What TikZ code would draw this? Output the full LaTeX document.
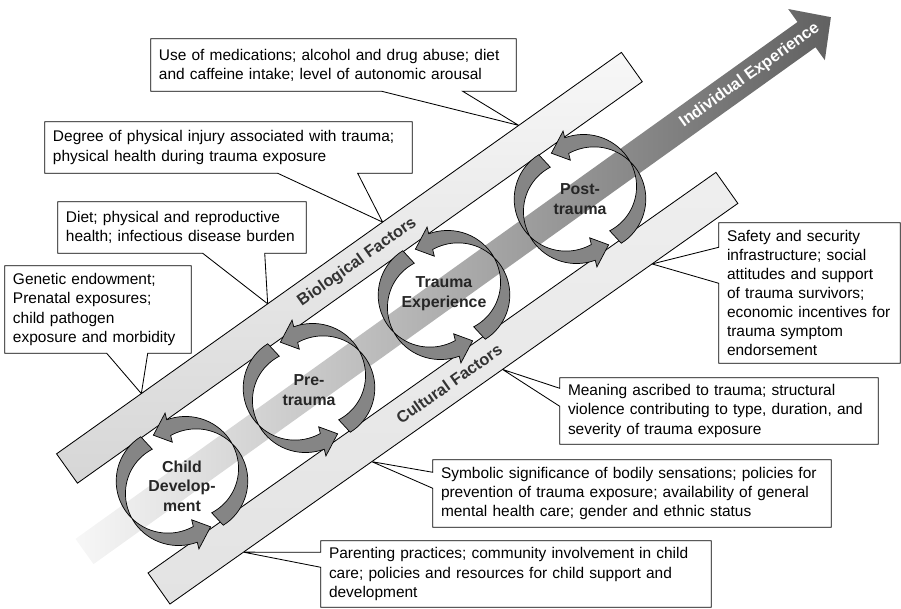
\documentclass[tikz,border=0pt]{standalone}
\usepackage{fontspec}
\setmainfont{Liberation Sans}
\usepackage{tikz}
\usetikzlibrary{calc, backgrounds}

\tikzset{
    note/.style={inner xsep=2mm, inner ysep=1mm, align=left, font=\fontsize{11}{13.6}\selectfont},
    callout/.style={draw=black, line width=0.6pt, fill=white},
    bar/.style={draw=black, line width=0.6pt},
    cyc/.style={draw=black, line width=0.5pt, fill=black!48},
    cyclbl/.style={align=center, font=\fontsize{11.3}{14}\selectfont\bfseries, text=black!85},
    barlbl/.style={font=\fontsize{11.6}{13}\selectfont\bfseries, text=black!80, transform shape}
}

% one half of a cycle, centred at the origin
\newcommand{\cycarrow}{%
    \filldraw[cyc] plot[domain=0:1, samples=40, variable=\t] ({133+151*\t}:{52+9*sin(180*\t)+3*\t+8.5*cos(162*\t)})
        -- (284:40) -- (302:54) -- (284:70)
        -- plot[domain=1:0, samples=40, variable=\t] ({133+151*\t}:{52+9*sin(180*\t)+3*\t-8.5*cos(162*\t)}) -- cycle;
}

\begin{document}
\begin{tikzpicture}[x=0.25mm, y=0.25mm]
    \useasboundingbox (0,0) rectangle (901,608);

    % Individual Experience
    \begin{scope}[shift={(84.5,56.5)}, rotate=35.6]
        \shade[left color=gray!6, right color=black!62] (0,-15.5) -- (888,-15.5) -- (888,-31.5) -- (918,0)
            -- (888,31.5) -- (888,15.5) -- (0,15.5) -- cycle;
        \node[barlbl, text=white] (ind) at (818,0) {Individual Experience};
    \end{scope}

    % Biological Factors
    \begin{scope}[shift={(67,139.5)}, rotate=35.4]
        \shadedraw[bar, top color=gray!6, bottom color=gray!32] (0,-18) rectangle (693,18);
        \node[barlbl] (bio) at (356,0) {Biological Factors};
        \coordinate (b1) at (104,18);
        \coordinate (b2) at (259,18);
        \coordinate (b3) at (400,18);
        \coordinate (b4) at (567,18);
    \end{scope}

    % Cultural Factors
    \begin{scope}[shift={(159,19.5)}, rotate=35.2]
        \shadedraw[bar, top color=gray!13, bottom color=gray!22] (0,-19) rectangle (695,19);
        \node[barlbl] (cul) at (355,0) {Cultural Factors};
        \coordinate (c1) at (90,-19);
        \coordinate (c2) at (247,-19);
        \coordinate (c3) at (407,-19);
        \coordinate (c4) at (590,-19);
    \end{scope}

    % Cycles
    \foreach \cx/\cy/\ty/\nm/\txt in {182/127/122/cd/{Child\\Develop-\\ment}, 309/220/218/pre/{Pre-\\trauma},
                                      444/313/314/te/{Trauma\\Experience}, 580/409/409/post/{Post-\\trauma}} {
        \begin{scope}[shift={(\cx,\cy)}]
            \cycarrow
            \begin{scope}[rotate=180]
                \cycarrow
            \end{scope}
        \end{scope}
        \node[cyclbl] (\nm) at (\cx,\ty) {\txt};
    }

    % Boxes above
    \node[note, text width=87.25mm, minimum height=13mm] (use) at (333.5,543)
        {Use of medications; alcohol and drug abuse; diet\\and caffeine intake; level of autonomic arousal};
    \node[note, text width=87.75mm, minimum height=12.75mm] (inj) at (228.5,460.5)
        {Degree of physical injury associated with trauma;\\physical health during trauma exposure};
    \node[note, text width=58mm, minimum height=12.75mm] (diet) at (182,380.5)
        {Diet; physical and reproductive\\health; infectious disease burden};
    \node[note, text width=42.5mm, minimum height=21.75mm] (gen) at (98,298.5)
        {Genetic endowment;\\Prenatal exposures;\\child pathogen\\exposure and morbidity};

    % Boxes below
    \node[note, text width=41.25mm, minimum height=35mm] (safe) at (809.5,315)
        {Safety and security\\infrastructure; social\\attitudes and support\\of trauma survivors;\\economic incentives for\\trauma symptom\\endorsement};
    \node[note, text width=75.5mm, minimum height=16.5mm] (mean) at (719,197)
        {Meaning ascribed to trauma; structural\\violence contributing to type, duration, and\\severity of trauma exposure};
    \node[note, text width=95.5mm, minimum height=16.75mm] (sym) at (632,114.5)
        {Symbolic significance of bodily sensations; policies for\\prevention of trauma exposure; availability of general\\mental health care; gender and ethnic status};
    \node[note, text width=93.5mm, minimum height=16.5mm] (par) at (516,34)
        {Parenting practices; community involvement in child\\care; policies and resources for child support and\\development};

    % Callout outlines
    \begin{scope}[on background layer]
        \foreach \n/\p/\q/\a in {use/231/312/b4, inj/233/313/b3, diet/145/207/b2, gen/102/143/b1} {
            \draw[callout] (\n.south west) -- (\n.north west) -- (\n.north east) -- (\n.south east)
                -- ($(\n.south west)+(\q,0)$) -- (\a) -- ($(\n.south west)+(\p,0)$) -- cycle;
        }
        \foreach \n/\p/\q/\a in {safe/80/116/c4, mean/38/56/c3, sym/39/55/c2, par/40/55/c1} {
            \draw[callout] (\n.south west) -- ($(\n.south west)+(0,\p)$) -- (\a) -- ($(\n.south west)+(0,\q)$)
                -- (\n.north west) -- (\n.north east) -- (\n.south east) -- cycle;
        }
    \end{scope}
\end{tikzpicture}
\end{document}
